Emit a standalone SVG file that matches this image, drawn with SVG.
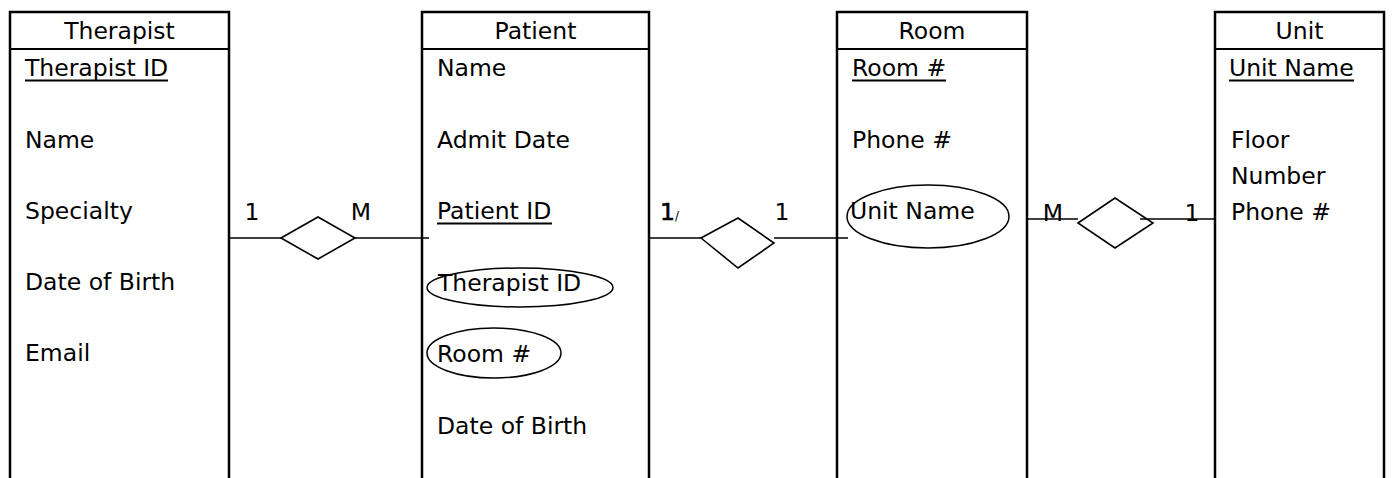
<svg xmlns="http://www.w3.org/2000/svg" width="1393" height="478" viewBox="0 0 1393 478">
<style>
.box{fill:none;stroke:#000;stroke-width:2.5}
.hdr{fill:none;stroke:#000;stroke-width:2}
.t{font-family:"DejaVu Sans","Liberation Sans",sans-serif;font-size:23.5px;fill:#000}
.c{text-anchor:middle}
.ul{stroke:#000;stroke-width:1.8}
.ell{fill:none;stroke:#000;stroke-width:1.5}
.ln{fill:none;stroke:#000;stroke-width:1.6}
.dia{fill:#fff;stroke:#000;stroke-width:1.6}
</style>
<rect width="1393" height="478" fill="#fff"/>
<g id="therapist">
<path class="box" d="M10,480 V12 H229 V480"/>
<line class="hdr" x1="10" y1="49" x2="229" y2="49"/>
<text class="t c" x="119.5" y="39">Therapist</text>
<text class="t" x="25" y="76">Therapist ID</text>
<line class="ul" x1="25" y1="80.5" x2="168" y2="80.5"/>
<text class="t" x="25" y="148">Name</text>
<text class="t" x="25" y="219">Specialty</text>
<text class="t" x="25" y="290">Date of Birth</text>
<text class="t" x="25" y="361">Email</text>
</g>
<g id="patient">
<path class="box" d="M422,480 V12 H649 V480"/>
<line class="hdr" x1="422" y1="49" x2="649" y2="49"/>
<text class="t c" x="535.5" y="39">Patient</text>
<text class="t" x="437" y="76">Name</text>
<text class="t" x="437" y="148">Admit Date</text>
<text class="t" x="437" y="219">Patient ID</text>
<line class="ul" x1="437" y1="223.5" x2="552" y2="223.5"/>
<ellipse class="ell" cx="520" cy="287.5" rx="93" ry="19.5"/>
<text class="t" x="438" y="291">Therapist ID</text>
<ellipse class="ell" cx="494" cy="353" rx="67" ry="25"/>
<text class="t" x="437" y="362">Room #</text>
<text class="t" x="437" y="434">Date of Birth</text>
</g>
<g id="room">
<path class="box" d="M837,480 V12 H1027 V480"/>
<line class="hdr" x1="837" y1="49" x2="1027" y2="49"/>
<text class="t c" x="932" y="39">Room</text>
<text class="t" x="852" y="76">Room #</text>
<line class="ul" x1="852" y1="80.5" x2="946" y2="80.5"/>
<text class="t" x="852" y="148">Phone #</text>
<ellipse class="ell" cx="928" cy="216.5" rx="81" ry="31.5"/>
<text class="t" x="850" y="219">Unit Name</text>
</g>
<g id="unit">
<path class="box" d="M1215,480 V12 H1384 V480"/>
<line class="hdr" x1="1215" y1="49" x2="1384" y2="49"/>
<text class="t c" x="1299.5" y="39">Unit</text>
<text class="t" x="1229" y="76">Unit Name</text>
<line class="ul" x1="1229" y1="80.5" x2="1354" y2="80.5"/>
<text class="t" x="1231" y="148">Floor</text>
<text class="t" x="1231" y="184">Number</text>
<text class="t" x="1231" y="220">Phone #</text>
</g>
<g id="connectors">
<line class="ln" x1="229" y1="238" x2="281" y2="238"/>
<polygon class="dia" points="281,238 318,217 355,238 318,259"/>
<line class="ln" x1="355" y1="238" x2="429" y2="238"/>
<text class="t c" x="252" y="220">1</text>
<text class="t c" x="361" y="220">M</text>

<line class="ln" x1="649" y1="238" x2="701" y2="238"/>
<polygon class="dia" points="701,238 738,218 774,243 738,268"/>
<line class="ln" x1="774" y1="238" x2="848" y2="238"/>
<text class="t" x="660" y="220" stroke="#000" stroke-width="0.6">1<tspan font-size="12" stroke-width="0">/</tspan></text>
<text class="t c" x="782" y="220">1</text>

<line class="ln" x1="1027" y1="219" x2="1078" y2="219"/>
<polygon class="dia" points="1078,223 1115,198 1153,223 1115,248"/>
<line class="ln" x1="1140" y1="219" x2="1215" y2="219"/>
<text class="t c" x="1053" y="221">M</text>
<text class="t c" x="1192" y="221">1</text>
</g>
</svg>
